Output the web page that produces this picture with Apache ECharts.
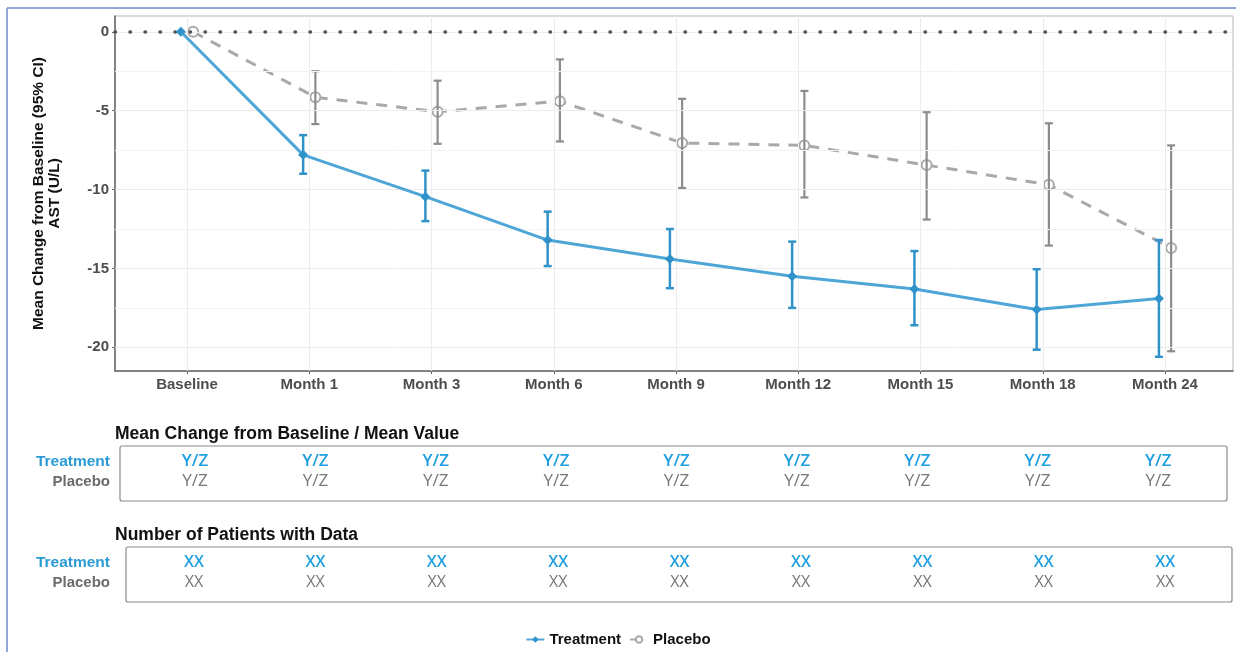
<!DOCTYPE html>
<html>
<head>
<meta charset="utf-8">
<script src="https://cdn.jsdelivr.net/npm/echarts@6/dist/echarts.min.js"></script>
<style>
  html, body { margin: 0; padding: 0; background: #fff; }
  #main { width: 1236px; height: 652px; }
</style>
</head>
<body>
<div id="main"></div>
<script>
// categories (x positions 0..8)
var visits = ['Baseline', 'Month 1', 'Month 3', 'Month 6', 'Month 9', 'Month 12', 'Month 15', 'Month 18', 'Month 24'];

// treatment mean change and 95% CI
var trtMean = [0, -7.8, -10.45, -13.2, -14.4, -15.5, -16.3, -17.6, -16.9];
var trtLow  = [0, -9.0, -12.0, -14.85, -16.25, -17.5, -18.6, -20.15, -20.6];
var trtHigh = [0, -6.55, -8.8, -11.4, -12.5, -13.3, -13.9, -15.05, -13.2];

// placebo mean change and 95% CI
var plaMean = [0, -4.15, -5.07, -4.4, -7.05, -7.2, -8.45, -9.7, -13.7];
var plaLow  = [0, -5.85, -7.1, -6.95, -9.9, -10.5, -11.9, -13.55, -20.25];
var plaHigh = [0, -2.5, -3.1, -1.75, -4.25, -3.75, -5.1, -5.8, -7.2];

// y ticks and grid
var yTicks = [-20, -15, -10, -5, 0];
var yMinor = [-17.5, -12.5, -7.5, -2.5];

// table rows
var meanTitle = 'Mean Change from Baseline / Mean Value';
var trtMeanText = ['Y/Z', 'Y/Z', 'Y/Z', 'Y/Z', 'Y/Z', 'Y/Z', 'Y/Z', 'Y/Z', 'Y/Z'];
var plaMeanText = ['Y/Z', 'Y/Z', 'Y/Z', 'Y/Z', 'Y/Z', 'Y/Z', 'Y/Z', 'Y/Z', 'Y/Z'];
var nTitle = 'Number of Patients with Data';
var trtNText = ['XX', 'XX', 'XX', 'XX', 'XX', 'XX', 'XX', 'XX', 'XX'];
var plaNText = ['XX', 'XX', 'XX', 'XX', 'XX', 'XX', 'XX', 'XX', 'XX'];

var dodge = 0.05;
var blue = '#4ea6d6';
var blueDark = '#2f93c9';
var grey = '#a9a9a9';
var greyDark = '#8c8c8c';

function pts(mean, off) {
    var out = [];
    for (var i = 0; i < mean.length; i++) out.push([i + off, mean[i]]);
    return out;
}
function bars(low, high, off) {
    var out = [];
    for (var i = 0; i < low.length; i++) {
        if (low[i] === high[i]) continue;
        out.push([i + off, low[i], high[i]]);
    }
    return out;
}
function errRender(color, width) {
    return function (params, api) {
        var top = api.coord([api.value(0), api.value(2)]);
        var bot = api.coord([api.value(0), api.value(1)]);
        var hw = 4;
        var st = { stroke: color, lineWidth: width };
        return {
            type: 'group',
            children: [
                { type: 'line', shape: { x1: top[0], y1: top[1], x2: bot[0], y2: bot[1] }, style: st },
                { type: 'line', shape: { x1: top[0] - hw, y1: top[1], x2: top[0] + hw, y2: top[1] }, style: st },
                { type: 'line', shape: { x1: bot[0] - hw, y1: bot[1], x2: bot[0] + hw, y2: bot[1] }, style: st }
            ]
        };
    };
}

var idx = visits.map(function (v, i) { return i; });
var gridLine = { color: '#ececec', width: 1, type: 'solid' };

var chart = echarts.init(document.getElementById('main'));
var option = {
    animation: false,
    textStyle: { fontFamily: 'Liberation Sans, Arial, sans-serif' },
    grid: { left: 115, right: 3, top: 16, bottom: 281, show: true, borderColor: '#b5b5b5', borderWidth: 1 },
    xAxis: {
        type: 'value', min: -0.589, max: 8.556,
        axisLine: { show: true, onZero: false, lineStyle: { color: '#666', width: 1.5 } },
        axisTick: { show: true, length: 3, customValues: idx, lineStyle: { color: '#666' } },
        axisLabel: {
            customValues: idx, margin: 6,
            color: '#4d4d4d', fontWeight: 'bold', fontSize: 15,
            formatter: function (v) { return visits[Math.round(v)]; }
        },
        splitLine: { show: false }
    },
    yAxis: {
        type: 'value', min: -21.5, max: 1,
        name: 'Mean Change from Baseline (95% CI)\nAST (U/L)',
        nameLocation: 'middle', nameRotate: 90, nameGap: 52,
        nameTextStyle: { color: '#111', fontWeight: 'bold', fontSize: 15.5, lineHeight: 16 },
        axisLine: { show: true, onZero: false, lineStyle: { color: '#666', width: 1.5 } },
        axisTick: { show: true, length: 3, customValues: yTicks, lineStyle: { color: '#666' } },
        axisLabel: { customValues: yTicks, margin: 6, color: '#4d4d4d', fontWeight: 'bold', fontSize: 15 },
        splitLine: { show: false }
    },
    legend: {
        bottom: 0, left: 'center', itemGap: 8, itemWidth: 18, itemHeight: 8,
        textStyle: { color: '#111', fontWeight: 'bold', fontSize: 15 },
        data: ['Treatment', 'Placebo']
    },
    series: [
        {
            type: 'line', data: [], silent: true, z: 0,
            markLine: {
                silent: true, symbol: 'none', label: { show: false }, animation: false,
                data: yMinor.map(function (v) { return { yAxis: v, lineStyle: { color: '#f3f3f3', width: 1, type: 'solid' } }; })
                    .concat(yTicks.map(function (v) { return { yAxis: v, lineStyle: gridLine }; }))
                    .concat(idx.map(function (v) { return { xAxis: v, lineStyle: gridLine }; }))
            }
        },
        {
            name: 'Placebo', type: 'line', data: pts(plaMean, dodge), z: 3,
            symbol: 'emptyCircle', symbolSize: 10,
            itemStyle: { color: grey, borderColor: '#9a9a9a', borderWidth: 1.2 },
            lineStyle: { color: grey, width: 3, type: [11, 9] }
        },
        {
            name: 'Placebo', type: 'custom', data: bars(plaLow, plaHigh, dodge), z: 4,
            renderItem: errRender(greyDark, 2.2)
        },
        {
            name: 'Treatment', type: 'line', data: pts(trtMean, -dodge), z: 5,
            symbol: 'diamond', symbolSize: 10,
            itemStyle: { color: blueDark },
            lineStyle: { color: blue, width: 3 }
        },
        {
            name: 'Treatment', type: 'custom', data: bars(trtLow, trtHigh, -dodge), z: 6,
            renderItem: errRender(blueDark, 2.5)
        },
        {
            type: 'line', data: [], silent: true, z: 7,
            markLine: {
                silent: true, symbol: 'none', label: { show: false }, animation: false,
                lineStyle: { color: '#555', width: 3.5, type: [0.5, 14.5], cap: 'round' },
                data: [{ yAxis: 0 }]
            }
        }
    ]
};
chart.setOption(option);

// tables under the chart
function tableGraphic(title, rowA, rowB, box, colStart, colStep) {
    var els = [];
    els.push({ type: 'text', left: 115, top: box.y - 21,
        style: { text: title, fill: '#111', font: 'bold 17.5px Liberation Sans, Arial, sans-serif' } });
    els.push({ type: 'rect', shape: { x: box.x, y: box.y, width: box.w, height: box.h, r: 2 },
        style: { fill: 'none', stroke: '#8a8a8a', lineWidth: 1.2 } });
    els.push({ type: 'text', x: 110, y: box.y + 16,
        style: { text: 'Treatment', fill: '#2a9bd5', align: 'right', verticalAlign: 'middle',
            font: 'bold 15.5px Liberation Sans, Arial, sans-serif' } });
    els.push({ type: 'text', x: 110, y: box.y + 36,
        style: { text: 'Placebo', fill: '#6b6b6b', align: 'right', verticalAlign: 'middle',
            font: 'bold 15px Liberation Sans, Arial, sans-serif' } });
    for (var i = 0; i < rowA.length; i++) {
        var cx = colStart + i * colStep;
        els.push({ type: 'text', x: cx, y: box.y + 15,
            style: { text: rowA[i], fill: '#1f9fe0', align: 'center', verticalAlign: 'middle',
                font: '600 ' + box.fs + 'px Open Sans, sans-serif' } });
        els.push({ type: 'text', x: cx, y: box.y + 35,
            style: { text: rowB[i], fill: '#777', align: 'center', verticalAlign: 'middle',
                font: box.fs + 'px Open Sans, sans-serif' } });
    }
    return els;
}

var frame = [
    { type: 'line', shape: { x1: 7, y1: 8, x2: 1236, y2: 8 }, style: { stroke: '#8ea7d8', lineWidth: 2 } },
    { type: 'line', shape: { x1: 7, y1: 8, x2: 7, y2: 652 }, style: { stroke: '#8ea7d8', lineWidth: 2 } }
];

chart.setOption({
    graphic: frame
        .concat(tableGraphic(meanTitle, trtMeanText, plaMeanText, { x: 120, y: 446, w: 1107, h: 55, fs: 17 }, 195, 120.4))
        .concat(tableGraphic(nTitle, trtNText, plaNText, { x: 126, y: 547, w: 1106, h: 55, fs: 16 }, 194, 121.4))
});
</script>
</body>
</html>
